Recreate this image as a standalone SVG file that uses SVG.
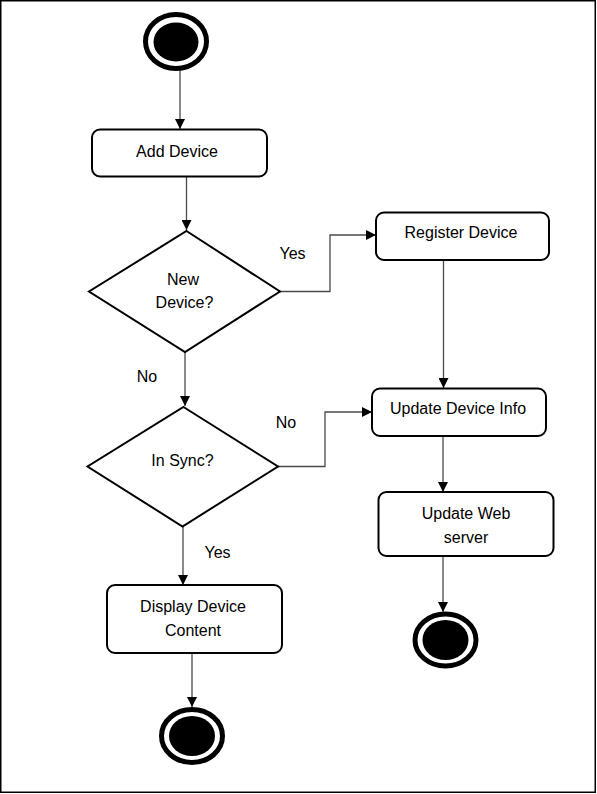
<svg xmlns="http://www.w3.org/2000/svg" width="597" height="794" viewBox="0 0 597 794">
<style>
.box{fill:#fff;stroke:#000;stroke-width:2}
.dia{fill:#fff;stroke:#000;stroke-width:2}
.t{font-family:"Liberation Sans",Arial,sans-serif;font-size:16px;fill:#000;text-anchor:middle}
.c{fill:none;stroke:#4a4a4a;stroke-width:1.3}
.ring{fill:#fff;stroke:#000;stroke-width:5}
.dot{fill:#000}
</style>
<defs>
<marker id="ah" markerUnits="userSpaceOnUse" markerWidth="11" markerHeight="10" refX="10" refY="5" orient="auto">
<path d="M0,0 L10,5 L0,10 Z" fill="#000"/>
</marker>
</defs>
<rect x="0.75" y="0.75" width="594.5" height="791.5" fill="#fff" stroke="#000" stroke-width="1.5"/>
<g id="connectors">
<path class="c" d="M180,70 V129" marker-end="url(#ah)"/>
<path class="c" d="M186.5,177 V230" marker-end="url(#ah)"/>
<path class="c" d="M280,291.5 H330 V235 H376" marker-end="url(#ah)"/>
<path class="c" d="M443.5,260 V388" marker-end="url(#ah)"/>
<path class="c" d="M185,352 V406" marker-end="url(#ah)"/>
<path class="c" d="M278,466.5 H325 V412 H372" marker-end="url(#ah)"/>
<path class="c" d="M183,527 V585" marker-end="url(#ah)"/>
<path class="c" d="M443,436 V492" marker-end="url(#ah)"/>
<path class="c" d="M192,653 V707" marker-end="url(#ah)"/>
<path class="c" d="M443,556 V612" marker-end="url(#ah)"/>
<text class="t" x="292.5" y="259">Yes</text>
<text class="t" x="286" y="428">No</text>
<text class="t" x="147" y="382">No</text>
<text class="t" x="217.5" y="558">Yes</text>
</g>
<g id="start">
<ellipse class="ring" cx="176" cy="41.5" rx="30.5" ry="27"/>
<ellipse class="dot" cx="176" cy="42" rx="22.5" ry="19.5"/>
</g>
<g id="add-device">
<rect class="box" x="92" y="129.5" width="175" height="47" rx="8"/>
<text class="t" x="177" y="156.5">Add Device</text>
</g>
<g id="new-device">
<polygon class="dia" points="186.5,231 280,291.5 185,352 89,291.5"/>
<text class="t" x="183" y="284.5">New</text>
<text class="t" x="184.5" y="308">Device?</text>
</g>
<g id="register-device">
<rect class="box" x="376" y="212.5" width="173" height="47.5" rx="8"/>
<text class="t" x="461" y="238">Register Device</text>
</g>
<g id="update-device-info">
<rect class="box" x="372" y="388.5" width="174" height="47.5" rx="8"/>
<text class="t" x="458" y="414">Update Device Info</text>
</g>
<g id="in-sync">
<polygon class="dia" points="183.5,407 278,466.5 182.5,526.5 87.5,466.5"/>
<text class="t" x="182.5" y="466">In Sync?</text>
</g>
<g id="display-device-content">
<rect class="box" x="107" y="585" width="175" height="68" rx="8"/>
<text class="t" x="193" y="611.5">Display Device</text>
<text class="t" x="193" y="636">Content</text>
</g>
<g id="update-web-server">
<rect class="box" x="378.5" y="492" width="175" height="64" rx="8"/>
<text class="t" x="466" y="519">Update Web</text>
<text class="t" x="466" y="542.5">server</text>
</g>
<g id="end-left">
<ellipse class="ring" cx="192" cy="736" rx="30.5" ry="26.5"/>
<ellipse class="dot" cx="192" cy="736" rx="23" ry="20"/>
</g>
<g id="end-right">
<ellipse class="ring" cx="445.5" cy="640" rx="30.5" ry="26"/>
<ellipse class="dot" cx="445.5" cy="640" rx="23" ry="20"/>
</g>
</svg>
